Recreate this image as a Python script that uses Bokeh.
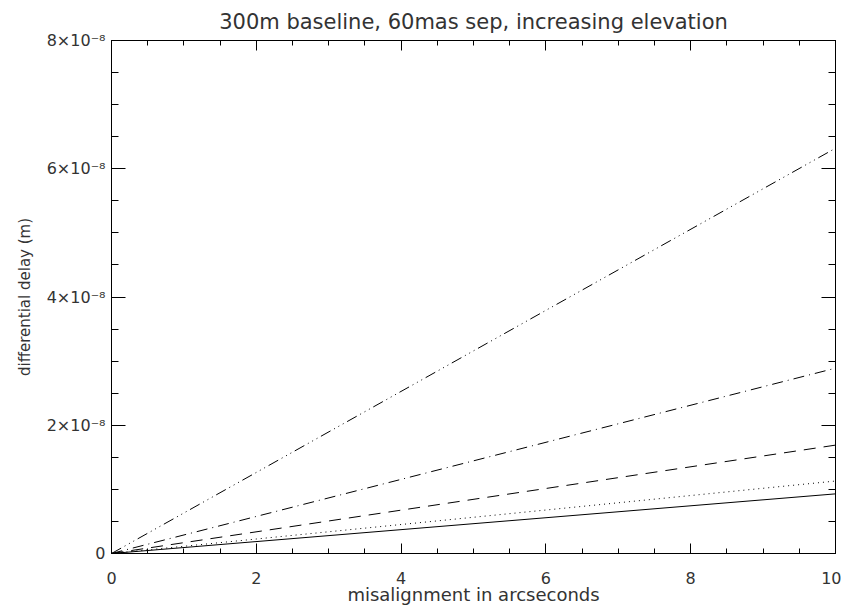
from bokeh.plotting import figure
from bokeh.models import Range1d, LinearAxis, FixedTicker, CustomJSTickFormatter
from bokeh.embed import file_html
from bokeh.resources import INLINE

# data
x = [0, 10]
y_solid = [0, 9.3e-9]
y_dotted = [0, 1.13e-8]
y_dashed = [0, 1.69e-8]
y_dashdot = [0, 2.89e-8]
y_dash3dot = [0, 6.32e-8]

x_major = [0, 2, 4, 6, 8, 10]
x_minor = [i * 0.5 for i in range(21)]
y_major = [0, 2e-8, 4e-8, 6e-8, 8e-8]
y_minor = [i * 0.5e-8 for i in range(17)]

FONT = "DejaVu Sans"
TXT = "#333333"

p = figure(width=841, height=607, output_backend="svg", toolbar_location=None,
           x_range=Range1d(0, 10), y_range=Range1d(0, 8e-8),
           x_axis_location=None, y_axis_location=None,
           min_border_left=111, min_border_right=6, min_border_top=38, min_border_bottom=54)
p.grid.visible = False
p.outline_line_color = "#000000"
p.background_fill_color = "white"
p.border_fill_color = "white"

p.title.text = "300m baseline, 60mas sep, increasing elevation"
p.title.align = "center"
p.title.text_font = FONT
p.title.text_font_size = "21px"
p.title.text_font_style = "normal"
p.title.text_color = TXT
p.title.standoff = 14

yfmt = CustomJSTickFormatter(code="""
if (Math.abs(tick) < 1e-12) return "0";
const n = Math.round(tick / 1e-8);
return n + "\u00d710\u207b\u2078";
""")
empty = CustomJSTickFormatter(code="return '';")

def style(ax, label, tick_in_major, tick_in_minor, lab_size="16px"):
    ax.axis_line_color = "#000000"
    ax.major_tick_line_color = "#000000"
    ax.minor_tick_line_color = "#000000"
    ax.major_tick_in = tick_in_major
    ax.major_tick_out = 0
    ax.minor_tick_in = tick_in_minor
    ax.minor_tick_out = 0
    ax.major_label_text_font = FONT
    ax.major_label_text_font_size = "16px"
    ax.major_label_text_color = TXT
    ax.axis_label_text_font = FONT
    ax.axis_label_text_font_size = lab_size
    ax.axis_label_text_font_style = "normal"
    ax.axis_label_text_color = TXT
    if label:
        ax.axis_label = label

xt = FixedTicker(ticks=x_major, minor_ticks=x_minor)
yt = FixedTicker(ticks=y_major, minor_ticks=y_minor)

bottom = LinearAxis(ticker=xt)
style(bottom, "misalignment in arcseconds", 10, 5, "18px")
bottom.major_label_standoff = 18
bottom.axis_label_standoff = -3
p.add_layout(bottom, "below")

top = LinearAxis(ticker=xt, formatter=empty)
style(top, None, 10, 5)
top.major_label_standoff = 0
p.add_layout(top, "above")

left = LinearAxis(ticker=yt, formatter=yfmt)
style(left, "differential delay (m)", 14, 7, "15px")
left.major_label_standoff = 6
left.axis_label_standoff = 10
p.add_layout(left, "left")

right = LinearAxis(ticker=yt, formatter=empty)
style(right, None, 14, 7)
right.major_label_standoff = 0
p.add_layout(right, "right")

p.line(x, y_solid, line_color="black", line_width=1)
p.line(x, y_dotted, line_color="black", line_width=1, line_dash="1 4")
p.line(x, y_dashed, line_color="black", line_width=1, line_dash="12 8")
p.line(x, y_dashdot, line_color="black", line_width=1, line_dash="11 5 1 5")
p.line(x, y_dash3dot, line_color="black", line_width=1, line_dash="11 4 1 4 1 4 1 4")

open("out.html", "w").write(file_html(p, INLINE))
